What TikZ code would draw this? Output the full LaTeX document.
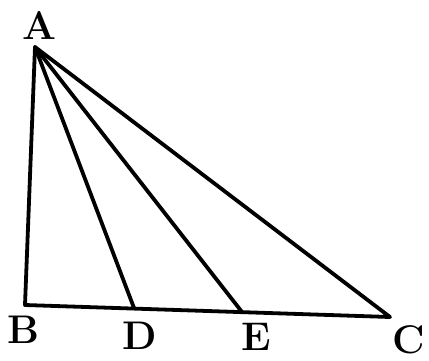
\documentclass[tikz,border=0pt]{standalone}
\usepackage{fontspec}
\setmainfont{Latin Modern Roman}
\begin{document}
\begin{tikzpicture}[x=1pt,y=-1pt,
  edge/.style={line width=3.8pt,line join=round,line cap=round},
  lbl/.style={font=\fontsize{40}{40}\selectfont\bfseries,inner sep=0pt}]
\useasboundingbox (0,0) rectangle (429,360);
\coordinate (A) at (35,47);
\coordinate (B) at (25,305);
\coordinate (D) at (134,308);
\coordinate (E) at (242,312);
\coordinate (C) at (390,317);
\draw[edge] (A) -- (B) -- (C) -- cycle;
\draw[edge] (A) -- (D);
\draw[edge] (A) -- (E);
\node[lbl] (lA) at (39,25) {A};
\node[lbl] (lB) at (24,330) {B};
\node[lbl] (lD) at (140,336) {D};
\node[lbl] (lE) at (256,337) {E};
\node[lbl] (lC) at (409,340) {C};
\end{tikzpicture}
\end{document}
